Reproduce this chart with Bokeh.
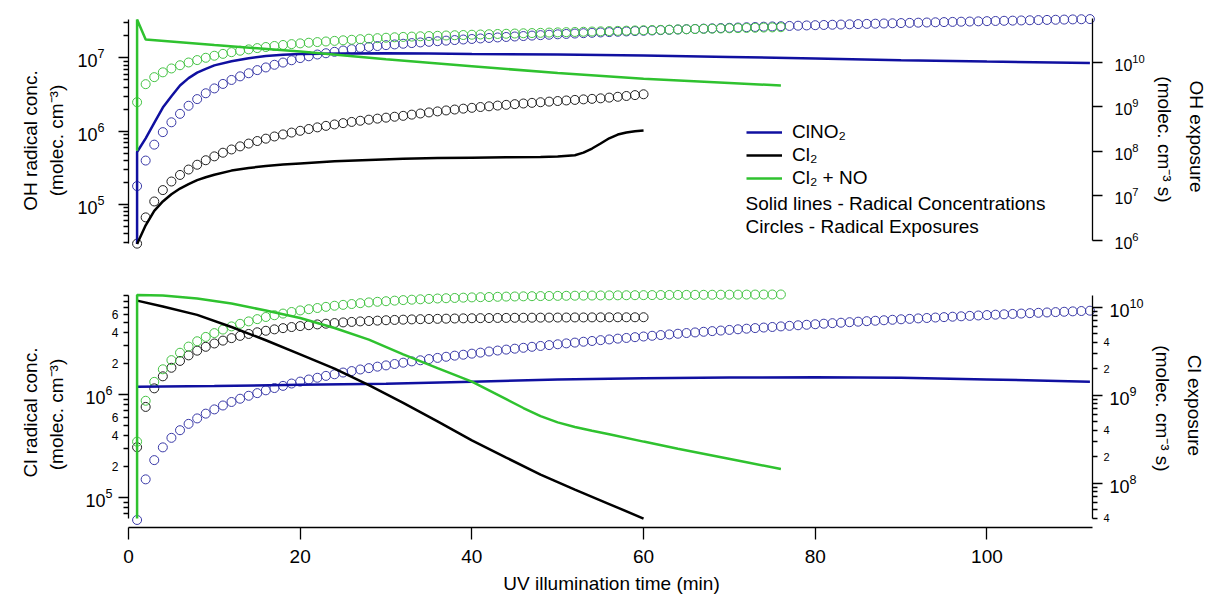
import math
from bokeh.plotting import figure
from bokeh.layouts import column
from bokeh.models import (Range1d, LogScale, LogAxis, LinearAxis, FixedTicker, Label,
                          Legend, LegendItem)
from bokeh.core.properties import value
from bokeh.embed import file_html
from bokeh.resources import INLINE

# ---------------------------------------------------------------- data
# time grid of the exposure points (one every minute)
T_CLNO2 = list(range(1, 113))
T_CL2 = list(range(1, 61))
T_CL2NO = list(range(1, 77))

# ---- OH panel: radical concentrations (solid lines), molec cm-3
OH_CONC_CLNO2_T = [1, 1, 2, 3, 4, 5, 6, 7, 8, 9, 10, 12, 14, 16, 18, 20, 25, 30, 35,
                   40, 50, 60, 70, 80, 90, 100, 112]
OH_CONC_CLNO2 = [2.9e4, 5.2e5, 8.0e5, 1.3e6, 2.1e6, 3.0e6, 4.2e6, 5.3e6, 6.3e6, 7.1e6,
                 7.9e6, 9.0e6, 9.9e6, 1.06e7, 1.1e7, 1.13e7, 1.15e7, 1.16e7, 1.15e7,
                 1.13e7, 1.11e7, 1.08e7, 1.03e7, 9.8e6, 9.3e6, 8.9e6, 8.5e6]

OH_CONC_CL2_T = [1, 2, 3, 4, 5, 6, 7, 8, 9, 10, 12, 14, 16, 18, 20, 24, 28, 32, 36, 40,
                 44, 48, 50, 52, 53, 54, 55, 56, 57, 58, 59, 60]
OH_CONC_CL2 = [2.9e4, 5.2e4, 8.2e4, 1.1e5, 1.38e5, 1.65e5, 1.9e5, 2.15e5, 2.35e5, 2.55e5,
               2.9e5, 3.15e5, 3.35e5, 3.5e5, 3.62e5, 3.88e5, 4.05e5, 4.2e5, 4.3e5, 4.35e5,
               4.4e5, 4.45e5, 4.5e5, 4.7e5, 5.1e5, 5.8e5, 6.8e5, 8.0e5, 9.0e5, 9.6e5,
               1.0e6, 1.02e6]

OH_CONC_CL2NO_T = [1, 1, 2, 10, 20, 30, 40, 50, 60, 70, 76]
OH_CONC_CL2NO = [5.4e5, 3.33e7, 1.78e7, 1.5e7, 1.22e7, 9.6e6, 7.7e6, 6.2e6, 5.2e6,
                 4.55e6, 4.2e6]

# ---- OH panel: radical exposures (circles), molec cm-3 s
OH_EXP_CLNO2 = [
    1.66e7, 6.2e7, 1.41e8, 2.69e8, 4.47e8, 6.92e8, 1.05e9, 1.48e9, 2.0e9, 2.57e9,
    3.24e9, 3.98e9, 4.79e9, 5.62e9, 6.61e9, 7.59e9, 8.71e9, 9.77e9, 1.10e10, 1.23e10,
    1.35e10, 1.48e10, 1.58e10, 1.70e10, 1.82e10, 1.95e10, 2.09e10, 2.19e10, 2.29e10, 2.40e10,
    2.49e10, 2.58e10, 2.67e10, 2.76e10, 2.85e10, 2.94e10, 3.03e10, 3.12e10, 3.21e10, 3.30e10,
    3.39e10, 3.48e10, 3.57e10, 3.66e10, 3.75e10, 3.84e10, 3.93e10, 4.02e10, 4.11e10, 4.20e10,
    4.28e10, 4.37e10, 4.45e10, 4.54e10, 4.62e10, 4.70e10, 4.79e10, 4.87e10, 4.96e10, 5.04e10,
    5.12e10, 5.21e10, 5.29e10, 5.38e10, 5.46e10, 5.54e10, 5.63e10, 5.71e10, 5.80e10, 5.88e10,
    5.96e10, 6.05e10, 6.13e10, 6.22e10, 6.30e10, 6.38e10, 6.47e10, 6.55e10, 6.64e10, 6.72e10,
    6.80e10, 6.88e10, 6.95e10, 7.03e10, 7.11e10, 7.19e10, 7.27e10, 7.34e10, 7.42e10, 7.50e10,
    7.58e10, 7.66e10, 7.73e10, 7.81e10, 7.89e10, 7.97e10, 8.05e10, 8.12e10, 8.20e10, 8.28e10,
    8.36e10, 8.44e10, 8.51e10, 8.59e10, 8.67e10, 8.75e10, 8.83e10, 8.90e10, 8.98e10, 9.06e10,
    9.14e10, 9.22e10]
OH_EXP_CL2 = [
    8.5e5, 3.3e6, 7.5e6, 1.35e7, 2.1e7, 2.95e7, 3.9e7, 5.0e7, 6.3e7, 7.7e7,
    9.3e7, 1.10e8, 1.29e8, 1.49e8, 1.70e8, 1.92e8, 2.15e8, 2.39e8, 2.63e8, 2.88e8,
    3.16e8, 3.44e8, 3.72e8, 4.00e8, 4.28e8, 4.56e8, 4.84e8, 5.12e8, 5.40e8, 5.68e8,
    5.96e8, 6.24e8, 6.64e8, 7.04e8, 7.44e8, 7.84e8, 8.24e8, 8.64e8, 9.04e8, 9.44e8,
    9.84e8, 1.02e9, 1.06e9, 1.10e9, 1.14e9, 1.18e9, 1.22e9, 1.26e9, 1.30e9, 1.34e9,
    1.38e9, 1.42e9, 1.46e9, 1.50e9, 1.54e9, 1.60e9, 1.67e9, 1.74e9, 1.82e9, 1.90e9]
OH_EXP_CL2NO = [
    1.26e9, 3.2e9, 4.6e9, 5.9e9, 7.2e9, 8.5e9, 9.8e9, 1.11e10, 1.25e10, 1.39e10,
    1.53e10, 1.67e10, 1.80e10, 1.93e10, 2.06e10, 2.18e10, 2.30e10, 2.42e10, 2.53e10, 2.63e10,
    2.72e10, 2.81e10, 2.90e10, 2.99e10, 3.08e10, 3.17e10, 3.26e10, 3.35e10, 3.44e10, 3.52e10,
    3.60e10, 3.67e10, 3.73e10, 3.79e10, 3.84e10, 3.89e10, 3.95e10, 4.00e10, 4.05e10, 4.11e10,
    4.16e10, 4.21e10, 4.27e10, 4.32e10, 4.37e10, 4.43e10, 4.48e10, 4.53e10, 4.59e10, 4.64e10,
    4.69e10, 4.74e10, 4.79e10, 4.85e10, 4.90e10, 4.96e10, 5.01e10, 5.07e10, 5.12e10, 5.18e10,
    5.23e10, 5.29e10, 5.34e10, 5.40e10, 5.45e10, 5.51e10, 5.56e10, 5.62e10, 5.67e10, 5.73e10,
    5.78e10, 5.84e10, 5.89e10, 5.95e10, 6.00e10, 6.06e10]

# ---- Cl panel: radical concentrations (solid lines), molec cm-3
CL_CONC_CLNO2_T = [1, 10, 20, 30, 40, 50, 60, 70, 80, 90, 100, 112]
CL_CONC_CLNO2 = [1.19e6, 1.21e6, 1.24e6, 1.27e6, 1.33e6, 1.40e6, 1.44e6, 1.46e6, 1.47e6,
                 1.45e6, 1.40e6, 1.33e6]

CL_CONC_CL2_T = [1, 4, 8, 12, 16, 20, 24, 28, 32, 36, 40, 44, 48, 52, 56, 60]
CL_CONC_CL2 = [8.1e6, 7.1e6, 5.9e6, 4.5e6, 3.35e6, 2.45e6, 1.78e6, 1.23e6, 8.3e5, 5.5e5,
               3.6e5, 2.45e5, 1.68e5, 1.2e5, 8.7e4, 6.3e4]

CL_CONC_CL2NO_T = [1, 1, 4, 8, 12, 16, 20, 24, 28, 32, 36, 40, 44, 46, 48, 50, 52, 54,
                   56, 60, 64, 68, 72, 76]
CL_CONC_CL2NO = [6.3e4, 9.2e6, 9.1e6, 8.5e6, 7.6e6, 6.5e6, 5.5e6, 4.4e6, 3.4e6, 2.45e6,
                 1.8e6, 1.33e6, 9.0e5, 7.4e5, 6.17e5, 5.37e5, 4.84e5, 4.45e5, 4.12e5,
                 3.5e5, 2.99e5, 2.57e5, 2.21e5, 1.9e5]

# ---- Cl panel: radical exposures (circles), molec cm-3 s
CL_EXP_CLNO2 = [
    3.8e7, 1.10e8, 1.82e8, 2.54e8, 3.26e8, 3.98e8, 4.70e8, 5.42e8, 6.14e8, 6.86e8,
    7.60e8, 8.33e8, 9.07e8, 9.80e8, 1.05e9, 1.13e9, 1.20e9, 1.27e9, 1.35e9, 1.42e9,
    1.50e9, 1.57e9, 1.65e9, 1.72e9, 1.80e9, 1.87e9, 1.95e9, 2.02e9, 2.10e9, 2.17e9,
    2.25e9, 2.33e9, 2.41e9, 2.48e9, 2.56e9, 2.64e9, 2.72e9, 2.80e9, 2.87e9, 2.95e9,
    3.03e9, 3.12e9, 3.20e9, 3.28e9, 3.36e9, 3.44e9, 3.53e9, 3.61e9, 3.69e9, 3.77e9,
    3.86e9, 3.94e9, 4.03e9, 4.11e9, 4.20e9, 4.28e9, 4.37e9, 4.45e9, 4.54e9, 4.62e9,
    4.71e9, 4.80e9, 4.88e9, 4.97e9, 5.06e9, 5.14e9, 5.23e9, 5.32e9, 5.40e9, 5.49e9,
    5.58e9, 5.67e9, 5.76e9, 5.84e9, 5.93e9, 6.02e9, 6.11e9, 6.20e9, 6.28e9, 6.37e9,
    6.46e9, 6.55e9, 6.63e9, 6.72e9, 6.81e9, 6.90e9, 6.98e9, 7.07e9, 7.16e9, 7.25e9,
    7.33e9, 7.42e9, 7.50e9, 7.59e9, 7.67e9, 7.76e9, 7.84e9, 7.93e9, 8.01e9, 8.10e9,
    8.18e9, 8.26e9, 8.34e9, 8.42e9, 8.51e9, 8.59e9, 8.67e9, 8.75e9, 8.83e9, 8.92e9,
    9.00e9, 9.08e9]
CL_EXP_CL2 = [
    2.55e8, 7.32e8, 1.19e9, 1.63e9, 2.04e9, 2.44e9, 2.82e9, 3.19e9, 3.53e9, 3.85e9,
    4.15e9, 4.43e9, 4.70e9, 4.94e9, 5.16e9, 5.37e9, 5.57e9, 5.75e9, 5.92e9, 6.07e9,
    6.21e9, 6.34e9, 6.46e9, 6.57e9, 6.68e9, 6.77e9, 6.86e9, 6.93e9, 7.00e9, 7.07e9,
    7.13e9, 7.18e9, 7.23e9, 7.27e9, 7.31e9, 7.34e9, 7.37e9, 7.40e9, 7.43e9, 7.45e9,
    7.47e9, 7.49e9, 7.51e9, 7.52e9, 7.54e9, 7.55e9, 7.56e9, 7.57e9, 7.58e9, 7.59e9,
    7.60e9, 7.61e9, 7.61e9, 7.62e9, 7.63e9, 7.63e9, 7.64e9, 7.64e9, 7.64e9, 7.65e9]
CL_EXP_CL2NO = [
    2.95e8, 8.6e8, 1.41e9, 1.96e9, 2.49e9, 3.02e9, 3.55e9, 4.08e9, 4.57e9, 5.05e9,
    5.54e9, 6.02e9, 6.44e9, 6.86e9, 7.28e9, 7.70e9, 8.06e9, 8.42e9, 8.78e9, 9.14e9,
    9.44e9, 9.74e9, 1.004e10, 1.034e10, 1.058e10, 1.081e10, 1.105e10, 1.128e10, 1.146e10, 1.163e10,
    1.181e10, 1.198e10, 1.211e10, 1.223e10, 1.236e10, 1.249e10, 1.258e10, 1.267e10, 1.277e10, 1.286e10,
    1.293e10, 1.299e10, 1.306e10, 1.313e10, 1.317e10, 1.322e10, 1.327e10, 1.331e10, 1.335e10, 1.338e10,
    1.341e10, 1.344e10, 1.347e10, 1.350e10, 1.353e10, 1.355e10, 1.357e10, 1.360e10, 1.362e10, 1.364e10,
    1.366e10, 1.368e10, 1.370e10, 1.372e10, 1.373e10, 1.375e10, 1.376e10, 1.378e10, 1.379e10, 1.381e10,
    1.382e10, 1.384e10, 1.385e10, 1.386e10, 1.387e10, 1.388e10]

# ---- axes ticks / labels
X_TICKS = [0, 20, 40, 60, 80, 100]
X_END = 112.3
OH_CONC_TICKS = [1e5, 1e6, 1e7]
OH_CONC_MINOR = [3e4, 4e4, 5e4, 6e4, 7e4, 8e4, 9e4, 2e5, 3e5, 4e5, 5e5, 6e5, 7e5, 8e5, 9e5,
                 2e6, 3e6, 4e6, 5e6, 6e6, 7e6, 8e6, 9e6, 2e7, 3e7]
OH_EXP_TICKS = [1e6, 1e7, 1e8, 1e9, 1e10]
CL_CONC_TICKS = [1e5, 1e6]
CL_CONC_MINOR = [7e4, 8e4, 9e4, 2e5, 3e5, 4e5, 5e5, 6e5, 7e5, 8e5, 9e5,
                 2e6, 3e6, 4e6, 5e6, 6e6, 7e6, 8e6, 9e6]
CL_CONC_MINOR_LABELED = [2e5, 4e5, 6e5, 2e6, 4e6, 6e6]
CL_CONC_MINOR_TEXT = ["2", "4", "6", "2", "4", "6"]
CL_EXP_TICKS = [1e8, 1e9, 1e10]
CL_EXP_MINOR = [4e7, 5e7, 6e7, 7e7, 8e7, 9e7, 2e8, 3e8, 4e8, 5e8, 6e8, 7e8, 8e8, 9e8,
                2e9, 3e9, 4e9, 5e9, 6e9, 7e9, 8e9, 9e9]
CL_EXP_MINOR_LABELED = [4e7, 2e8, 4e8, 2e9, 4e9]
CL_EXP_MINOR_TEXT = ["4", "2", "4", "2", "4"]

SERIES_NAMES = ["ClNO\u2082", "Cl\u2082", "Cl\u2082 + NO"]

# ---------------------------------------------------------------- layout / style
FONT = "Liberation Sans"
BLUE = "#1010A0"
BLACK = "#000000"
GREEN = "#2FC22F"
BLUE_C = "#3A3AA8"
BLACK_C = "#202020"
GREEN_C = "#45C445"

W = 1213
H1, H2 = 270, 327            # heights of the two stacked figures
PX_L, PX_R = 128, 1092       # page x of time 0 and of the last minute
SCALE_X = (PX_R - PX_L) / X_END
X_RANGE = (-PX_L / SCALE_X, (W - PX_L) / SCALE_X)


def log_at(py, anchor_py, anchor_log, ppd):
    return anchor_log + (anchor_py - py) / ppd


def log_range(py_top, py_bot, anchor_py, anchor_log, ppd):
    return (10 ** log_at(py_bot, anchor_py, anchor_log, ppd),
            10 ** log_at(py_top, anchor_py, anchor_log, ppd))


def style_axis(ax, size, standoff, major_out=10, minor_out=5):
    ax.axis_line_color = "black"
    ax.axis_line_width = 1.3
    ax.major_tick_line_color = "black"
    ax.major_tick_line_width = 1.3
    ax.minor_tick_line_color = "black"
    ax.minor_tick_line_width = 1.3
    ax.major_tick_out = major_out
    ax.major_tick_in = 0
    ax.minor_tick_out = minor_out
    ax.minor_tick_in = 0
    ax.major_label_text_font = FONT
    ax.major_label_text_font_size = f"{size}px"
    ax.major_label_text_color = "black"
    ax.major_label_standoff = standoff


def label(p, x, y, text, size=19, angle=0.0, align="center", baseline="middle",
          y_units="screen", y_range_name="default"):
    p.add_layout(Label(x=x, y=y, x_units="screen", y_units=y_units, text=text,
                       angle=angle, text_align=align, text_baseline=baseline,
                       text_font=FONT, text_font_size=f"{size}px", text_color="black",
                       y_range_name=y_range_name))


def base_fig(height, yr, yr2):
    p = figure(width=W, height=height, x_range=Range1d(*X_RANGE),
               y_range=Range1d(*yr), y_axis_type="log",
               x_axis_location=None, y_axis_location=None,
               output_backend="svg", toolbar_location=None, min_border=0)
    p.outline_line_color = None
    p.xgrid.visible = False
    p.ygrid.visible = False
    p.background_fill_color = "white"
    p.border_fill_color = "white"
    p.extra_y_ranges = {"exp": Range1d(*yr2)}
    p.extra_y_scales = {"exp": LogScale()}
    return p


ckw = dict(marker="circle", size=9, fill_color=None, line_width=1, y_range_name="exp")

# ---------------------------------------------------------------- top: OH
# page geometry: left scale 1e6 at y=130.7, 73.3 px/decade; right 1e6 at y=240, 44.6 px/decade
L1 = (130.7, 6, 73.3)
R1 = (240.0, 6, 44.6)
p1 = base_fig(H1, log_range(0, H1, *L1), log_range(0, H1, *R1))

ly = LogAxis(ticker=FixedTicker(ticks=OH_CONC_TICKS, minor_ticks=OH_CONC_MINOR),
             fixed_location=0, bounds=(10 ** log_at(243, *L1), 10 ** log_at(19, *L1)))
style_axis(ly, 18, 14)
p1.add_layout(ly, "left")
ry = LogAxis(y_range_name="exp", ticker=FixedTicker(ticks=OH_EXP_TICKS, minor_ticks=[]),
             fixed_location=X_END, bounds=(10 ** log_at(240, *R1), 10 ** log_at(18, *R1)))
style_axis(ry, 16, 12)
ry.minor_tick_line_color = None
p1.add_layout(ry, "right")

p1.scatter(T_CL2, OH_EXP_CL2, line_color=BLACK_C, **ckw)
p1.scatter(T_CLNO2, OH_EXP_CLNO2, line_color=BLUE_C, **ckw)
p1.scatter(T_CL2NO, OH_EXP_CL2NO, line_color=GREEN_C, **ckw)
rb = p1.line(OH_CONC_CLNO2_T, OH_CONC_CLNO2, line_color=BLUE, line_width=2.5)
rk = p1.line(OH_CONC_CL2_T, OH_CONC_CL2, line_color=BLACK, line_width=2.5)
rg = p1.line(OH_CONC_CL2NO_T, OH_CONC_CL2NO, line_color=GREEN, line_width=2.5)

legend = Legend(items=[LegendItem(label=value(SERIES_NAMES[0]), renderers=[rb]),
                       LegendItem(label=value(SERIES_NAMES[1]), renderers=[rk]),
                       LegendItem(label=value(SERIES_NAMES[2]), renderers=[rg])],
                location=(746, H1 - 189), border_line_color=None, background_fill_alpha=0,
                padding=0, margin=0, spacing=1, glyph_width=36, glyph_height=22,
                label_height=22, label_standoff=10, label_text_font=FONT,
                label_text_font_size="19px", label_text_color="black")
p1.add_layout(legend)
label(p1, 745, H1 - 203, "Solid lines - Radical Concentrations", align="left")
label(p1, 745, H1 - 226, "Circles - Radical Exposures", align="left")

label(p1, 30, H1 - 140, "OH radical conc.", angle=math.pi / 2)
label(p1, 56, H1 - 140, "(molec. cm\u207b\u00b3)", angle=math.pi / 2)
label(p1, 1196, H1 - 136, "OH exposure", angle=-math.pi / 2)
label(p1, 1164, H1 - 139, "(molec. cm\u207b\u00b3 s)", angle=-math.pi / 2)

# ---------------------------------------------------------------- bottom: Cl
# page geometry: left 1e6 at y=394, 103.3 px/decade; right 1e9 at y=394.5, 88 px/decade
L2 = (394.0 - H1, 6, 103.3)
R2 = (394.5 - H1, 9, 88.0)
p2 = base_fig(H2, log_range(0, H2, *L2), log_range(0, H2, *R2))

xa = LinearAxis(ticker=FixedTicker(ticks=X_TICKS, minor_ticks=[]),
                fixed_location=10 ** log_at(527 - H1, *L2), bounds=(0, X_END))
style_axis(xa, 19, 10, major_out=12, minor_out=0)
xa.minor_tick_line_color = None
p2.add_layout(xa, "below")

ly2 = LogAxis(ticker=FixedTicker(ticks=CL_CONC_TICKS, minor_ticks=CL_CONC_MINOR),
              fixed_location=0,
              bounds=(10 ** log_at(518 - H1, *L2), 10 ** log_at(295 - H1, *L2)))
style_axis(ly2, 18, 6)
p2.add_layout(ly2, "left")
ry2 = LogAxis(y_range_name="exp",
              ticker=FixedTicker(ticks=CL_EXP_TICKS, minor_ticks=CL_EXP_MINOR),
              fixed_location=X_END,
              bounds=(10 ** log_at(518 - H1, *R2), 10 ** log_at(295 - H1, *R2)))
style_axis(ry2, 18, 7)
p2.add_layout(ry2, "right")

p2.scatter(T_CL2, CL_EXP_CL2, line_color=BLACK_C, **ckw)
p2.scatter(T_CLNO2, CL_EXP_CLNO2, line_color=BLUE_C, **ckw)
p2.scatter(T_CL2NO, CL_EXP_CL2NO, line_color=GREEN_C, **ckw)
p2.line(CL_CONC_CLNO2_T, CL_CONC_CLNO2, line_color=BLUE, line_width=2.5)
p2.line(CL_CONC_CL2_T, CL_CONC_CL2, line_color=BLACK, line_width=2.5)
p2.line(CL_CONC_CL2NO_T, CL_CONC_CL2NO, line_color=GREEN, line_width=2.5)

for v, t in zip(CL_CONC_MINOR_LABELED, CL_CONC_MINOR_TEXT):
    label(p2, PX_L - 10, v, t, size=12, align="right", y_units="data")
for v, t in zip(CL_EXP_MINOR_LABELED, CL_EXP_MINOR_TEXT):
    label(p2, PX_R + 11, v, t, size=11, align="left", y_units="data", y_range_name="exp")

label(p2, 30, 597 - 412, "Cl radical conc.", angle=math.pi / 2)
label(p2, 56, 597 - 414, "(molec. cm\u207b\u00b3)", angle=math.pi / 2)
label(p2, 1194, 597 - 405, "Cl exposure", angle=-math.pi / 2)
label(p2, 1162, 597 - 408, "(molec. cm\u207b\u00b3 s)", angle=-math.pi / 2)
label(p2, 611, 597 - 583, "UV illumination time (min)")

layout = column(p1, p2, spacing=0)
open("out.html", "w").write(file_html(layout, INLINE))
